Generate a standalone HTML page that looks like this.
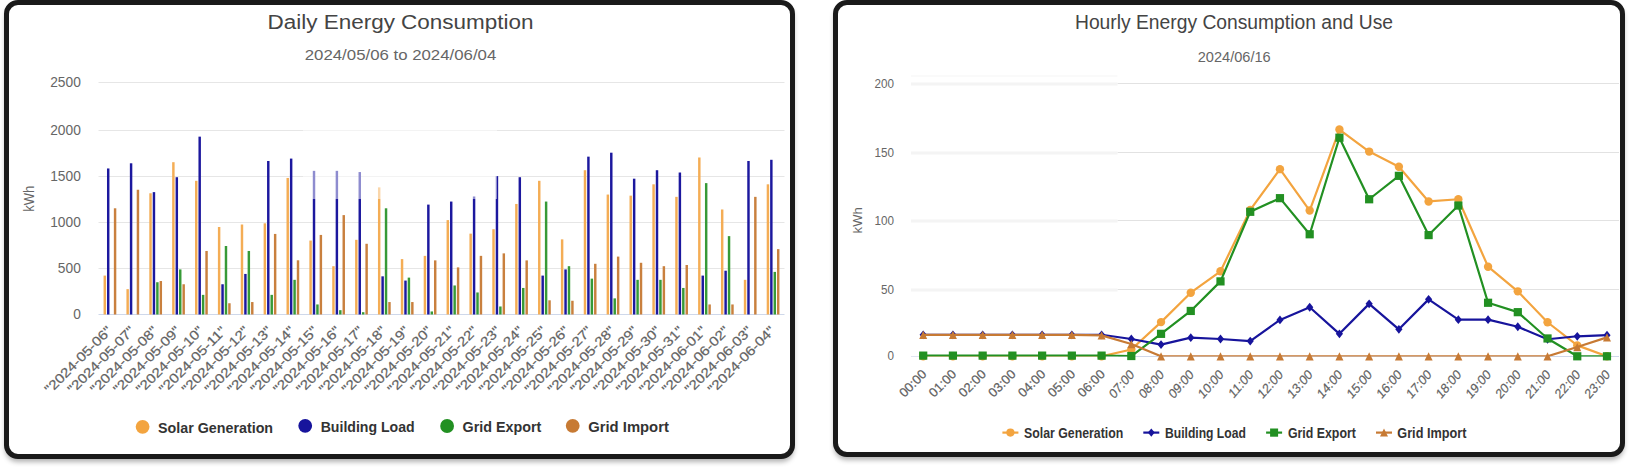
<!DOCTYPE html>
<html><head><meta charset="utf-8"><title>Energy Dashboard</title>
<style>
html,body{margin:0;padding:0;background:#fff;}
body{width:1629px;height:467px;position:relative;overflow:hidden;font-family:"Liberation Sans",sans-serif;}
.panel{position:absolute;box-sizing:border-box;border:5px solid #1a1a1a;border-radius:14px;background:#fff;box-shadow:0 4px 5px -1px rgba(0,0,0,0.3);}
svg{position:absolute;left:0;top:0;font-family:"Liberation Sans",sans-serif;}
</style></head><body>
<div class="panel" style="left:4px;top:0px;width:791px;height:459px"></div>
<div class="panel" style="left:833.3px;top:0px;width:792px;height:456.5px"></div>
<svg width="1629" height="467" viewBox="0 0 1629 467">
<line x1="98.5" x2="784.5" y1="314.50" y2="314.50" stroke="#cfd8ea" stroke-width="1"/>
<line x1="98.5" x2="784.5" y1="268.50" y2="268.50" stroke="#e6e6e6" stroke-width="1"/>
<line x1="98.5" x2="784.5" y1="222.50" y2="222.50" stroke="#e6e6e6" stroke-width="1"/>
<line x1="98.5" x2="784.5" y1="176.50" y2="176.50" stroke="#e6e6e6" stroke-width="1"/>
<line x1="98.5" x2="784.5" y1="130.50" y2="130.50" stroke="#e6e6e6" stroke-width="1"/>
<line x1="98.5" x2="784.5" y1="82.50" y2="82.50" stroke="#e6e6e6" stroke-width="1"/>
<text x="80.8" y="319.40" font-size="14" fill="#666" text-anchor="end" font-weight="normal" textLength="7.65" lengthAdjust="spacingAndGlyphs">0</text>
<text x="80.8" y="273.40" font-size="14" fill="#666" text-anchor="end" font-weight="normal" textLength="22.95" lengthAdjust="spacingAndGlyphs">500</text>
<text x="80.8" y="227.40" font-size="14" fill="#666" text-anchor="end" font-weight="normal" textLength="30.60" lengthAdjust="spacingAndGlyphs">1000</text>
<text x="80.8" y="181.40" font-size="14" fill="#666" text-anchor="end" font-weight="normal" textLength="30.60" lengthAdjust="spacingAndGlyphs">1500</text>
<text x="80.8" y="135.40" font-size="14" fill="#666" text-anchor="end" font-weight="normal" textLength="30.60" lengthAdjust="spacingAndGlyphs">2000</text>
<text x="80.8" y="87.40" font-size="14" fill="#666" text-anchor="end" font-weight="normal" textLength="30.60" lengthAdjust="spacingAndGlyphs">2500</text>
<text transform="translate(34.2,198.7) rotate(-90)" font-size="14" fill="#666" text-anchor="middle" textLength="26.2" lengthAdjust="spacingAndGlyphs">kWh</text>
<rect x="103.56" y="275.59" width="2.45" height="38.91" fill="#f4ad55"/>
<rect x="106.99" y="168.46" width="2.45" height="146.04" fill="#1c189e"/>
<rect x="113.85" y="208.29" width="2.45" height="106.21" fill="#c9803e"/>
<rect x="126.43" y="289.14" width="2.45" height="25.36" fill="#f4ad55"/>
<rect x="129.86" y="163.29" width="2.45" height="151.21" fill="#1c189e"/>
<rect x="136.72" y="189.75" width="2.45" height="124.75" fill="#c9803e"/>
<rect x="149.30" y="193.26" width="2.45" height="121.24" fill="#f4ad55"/>
<rect x="152.73" y="192.15" width="2.45" height="122.35" fill="#1c189e"/>
<rect x="156.16" y="282.23" width="2.45" height="32.27" fill="#379a37"/>
<rect x="159.59" y="281.03" width="2.45" height="33.47" fill="#c9803e"/>
<rect x="172.16" y="162.19" width="2.45" height="152.31" fill="#f4ad55"/>
<rect x="175.59" y="177.21" width="2.45" height="137.29" fill="#1c189e"/>
<rect x="179.02" y="269.41" width="2.45" height="45.09" fill="#379a37"/>
<rect x="182.45" y="284.26" width="2.45" height="30.24" fill="#c9803e"/>
<rect x="195.03" y="180.81" width="2.45" height="133.69" fill="#f4ad55"/>
<rect x="198.46" y="136.65" width="2.45" height="177.85" fill="#1c189e"/>
<rect x="201.89" y="294.86" width="2.45" height="19.64" fill="#379a37"/>
<rect x="205.32" y="250.97" width="2.45" height="63.53" fill="#c9803e"/>
<rect x="217.90" y="227.00" width="2.45" height="87.50" fill="#f4ad55"/>
<rect x="221.33" y="284.26" width="2.45" height="30.24" fill="#1c189e"/>
<rect x="224.76" y="246.00" width="2.45" height="68.50" fill="#379a37"/>
<rect x="228.19" y="303.25" width="2.45" height="11.25" fill="#c9803e"/>
<rect x="240.76" y="224.51" width="2.45" height="89.99" fill="#f4ad55"/>
<rect x="244.19" y="273.93" width="2.45" height="40.57" fill="#1c189e"/>
<rect x="247.62" y="250.97" width="2.45" height="63.53" fill="#379a37"/>
<rect x="251.05" y="302.05" width="2.45" height="12.45" fill="#c9803e"/>
<rect x="263.63" y="223.31" width="2.45" height="91.19" fill="#f4ad55"/>
<rect x="267.06" y="160.99" width="2.45" height="153.51" fill="#1c189e"/>
<rect x="270.49" y="294.86" width="2.45" height="19.64" fill="#379a37"/>
<rect x="273.92" y="233.92" width="2.45" height="80.58" fill="#c9803e"/>
<rect x="286.50" y="177.95" width="2.45" height="136.55" fill="#f4ad55"/>
<rect x="289.93" y="158.59" width="2.45" height="155.91" fill="#1c189e"/>
<rect x="293.36" y="279.83" width="2.45" height="34.67" fill="#379a37"/>
<rect x="296.79" y="260.29" width="2.45" height="54.21" fill="#c9803e"/>
<rect x="309.36" y="240.56" width="2.45" height="73.94" fill="#f4ad55"/>
<rect x="312.79" y="170.85" width="2.45" height="143.65" fill="#1c189e"/>
<rect x="316.22" y="304.45" width="2.45" height="10.05" fill="#379a37"/>
<rect x="319.65" y="234.93" width="2.45" height="79.57" fill="#c9803e"/>
<rect x="332.23" y="266.19" width="2.45" height="48.31" fill="#f4ad55"/>
<rect x="335.66" y="170.85" width="2.45" height="143.65" fill="#1c189e"/>
<rect x="339.09" y="310.17" width="2.45" height="4.33" fill="#379a37"/>
<rect x="342.52" y="215.11" width="2.45" height="99.39" fill="#c9803e"/>
<rect x="355.10" y="239.82" width="2.45" height="74.68" fill="#f4ad55"/>
<rect x="358.53" y="172.05" width="2.45" height="142.45" fill="#1c189e"/>
<rect x="361.96" y="312.19" width="2.45" height="2.31" fill="#379a37"/>
<rect x="365.39" y="243.78" width="2.45" height="70.72" fill="#c9803e"/>
<rect x="377.96" y="187.36" width="2.45" height="127.14" fill="#f4ad55"/>
<rect x="381.39" y="276.33" width="2.45" height="38.17" fill="#1c189e"/>
<rect x="384.82" y="208.29" width="2.45" height="106.21" fill="#379a37"/>
<rect x="388.25" y="302.05" width="2.45" height="12.45" fill="#c9803e"/>
<rect x="400.83" y="259.09" width="2.45" height="55.41" fill="#f4ad55"/>
<rect x="404.26" y="280.57" width="2.45" height="33.93" fill="#1c189e"/>
<rect x="407.69" y="277.62" width="2.45" height="36.88" fill="#379a37"/>
<rect x="411.12" y="302.05" width="2.45" height="12.45" fill="#c9803e"/>
<rect x="423.70" y="255.86" width="2.45" height="58.64" fill="#f4ad55"/>
<rect x="427.13" y="204.60" width="2.45" height="109.90" fill="#1c189e"/>
<rect x="430.56" y="311.46" width="2.45" height="3.04" fill="#379a37"/>
<rect x="433.99" y="260.38" width="2.45" height="54.12" fill="#c9803e"/>
<rect x="446.56" y="220.09" width="2.45" height="94.41" fill="#f4ad55"/>
<rect x="449.99" y="201.56" width="2.45" height="112.94" fill="#1c189e"/>
<rect x="453.42" y="285.46" width="2.45" height="29.04" fill="#379a37"/>
<rect x="456.85" y="267.39" width="2.45" height="47.11" fill="#c9803e"/>
<rect x="469.43" y="233.64" width="2.45" height="80.86" fill="#f4ad55"/>
<rect x="472.86" y="196.48" width="2.45" height="118.02" fill="#1c189e"/>
<rect x="476.29" y="292.46" width="2.45" height="22.04" fill="#379a37"/>
<rect x="479.72" y="255.86" width="2.45" height="58.64" fill="#c9803e"/>
<rect x="492.30" y="229.22" width="2.45" height="85.28" fill="#f4ad55"/>
<rect x="495.73" y="176.11" width="2.45" height="138.39" fill="#1c189e"/>
<rect x="499.16" y="306.48" width="2.45" height="8.02" fill="#379a37"/>
<rect x="502.59" y="253.37" width="2.45" height="61.13" fill="#c9803e"/>
<rect x="515.16" y="203.95" width="2.45" height="110.55" fill="#f4ad55"/>
<rect x="518.59" y="177.21" width="2.45" height="137.29" fill="#1c189e"/>
<rect x="522.02" y="287.95" width="2.45" height="26.55" fill="#379a37"/>
<rect x="525.45" y="260.38" width="2.45" height="54.12" fill="#c9803e"/>
<rect x="538.03" y="180.81" width="2.45" height="133.69" fill="#f4ad55"/>
<rect x="541.46" y="275.59" width="2.45" height="38.91" fill="#1c189e"/>
<rect x="544.89" y="201.56" width="2.45" height="112.94" fill="#379a37"/>
<rect x="548.32" y="300.30" width="2.45" height="14.20" fill="#c9803e"/>
<rect x="560.90" y="239.36" width="2.45" height="75.14" fill="#f4ad55"/>
<rect x="564.33" y="269.41" width="2.45" height="45.09" fill="#1c189e"/>
<rect x="567.76" y="266.19" width="2.45" height="48.31" fill="#379a37"/>
<rect x="571.19" y="300.76" width="2.45" height="13.74" fill="#c9803e"/>
<rect x="583.76" y="170.21" width="2.45" height="144.29" fill="#f4ad55"/>
<rect x="587.19" y="156.65" width="2.45" height="157.85" fill="#1c189e"/>
<rect x="590.62" y="278.63" width="2.45" height="35.87" fill="#379a37"/>
<rect x="594.05" y="263.79" width="2.45" height="50.71" fill="#c9803e"/>
<rect x="606.63" y="194.55" width="2.45" height="119.95" fill="#f4ad55"/>
<rect x="610.06" y="152.69" width="2.45" height="161.81" fill="#1c189e"/>
<rect x="613.49" y="298.37" width="2.45" height="16.13" fill="#379a37"/>
<rect x="616.92" y="256.60" width="2.45" height="57.90" fill="#c9803e"/>
<rect x="629.50" y="195.65" width="2.45" height="118.85" fill="#f4ad55"/>
<rect x="632.93" y="178.69" width="2.45" height="135.81" fill="#1c189e"/>
<rect x="636.36" y="279.83" width="2.45" height="34.67" fill="#379a37"/>
<rect x="639.79" y="262.78" width="2.45" height="51.72" fill="#c9803e"/>
<rect x="652.36" y="184.31" width="2.45" height="130.19" fill="#f4ad55"/>
<rect x="655.79" y="170.21" width="2.45" height="144.29" fill="#1c189e"/>
<rect x="659.22" y="279.83" width="2.45" height="34.67" fill="#379a37"/>
<rect x="662.65" y="266.19" width="2.45" height="48.31" fill="#c9803e"/>
<rect x="675.23" y="196.85" width="2.45" height="117.65" fill="#f4ad55"/>
<rect x="678.66" y="172.51" width="2.45" height="141.99" fill="#1c189e"/>
<rect x="682.09" y="287.95" width="2.45" height="26.55" fill="#379a37"/>
<rect x="685.52" y="264.99" width="2.45" height="49.51" fill="#c9803e"/>
<rect x="698.10" y="157.48" width="2.45" height="157.02" fill="#f4ad55"/>
<rect x="701.53" y="275.59" width="2.45" height="38.91" fill="#1c189e"/>
<rect x="704.96" y="183.12" width="2.45" height="131.38" fill="#379a37"/>
<rect x="708.39" y="304.45" width="2.45" height="10.05" fill="#c9803e"/>
<rect x="720.96" y="209.48" width="2.45" height="105.02" fill="#f4ad55"/>
<rect x="724.39" y="270.70" width="2.45" height="43.80" fill="#1c189e"/>
<rect x="727.82" y="236.13" width="2.45" height="78.37" fill="#379a37"/>
<rect x="731.25" y="304.45" width="2.45" height="10.05" fill="#c9803e"/>
<rect x="743.83" y="279.83" width="2.45" height="34.67" fill="#f4ad55"/>
<rect x="747.26" y="160.99" width="2.45" height="153.51" fill="#1c189e"/>
<rect x="754.12" y="196.85" width="2.45" height="117.65" fill="#c9803e"/>
<rect x="766.70" y="184.31" width="2.45" height="130.19" fill="#f4ad55"/>
<rect x="770.13" y="159.79" width="2.45" height="154.71" fill="#1c189e"/>
<rect x="773.56" y="271.90" width="2.45" height="42.60" fill="#379a37"/>
<rect x="776.99" y="249.13" width="2.45" height="65.37" fill="#c9803e"/>
<text transform="translate(112.73,331.80) rotate(-45)" font-size="13.3" fill="#626262" stroke="#626262" stroke-width="0.2" text-anchor="end" textLength="88.6" lengthAdjust="spacingAndGlyphs">&quot;2024-05-06&quot;</text>
<text transform="translate(135.60,331.80) rotate(-45)" font-size="13.3" fill="#626262" stroke="#626262" stroke-width="0.2" text-anchor="end" textLength="88.6" lengthAdjust="spacingAndGlyphs">&quot;2024-05-07&quot;</text>
<text transform="translate(158.47,331.80) rotate(-45)" font-size="13.3" fill="#626262" stroke="#626262" stroke-width="0.2" text-anchor="end" textLength="88.6" lengthAdjust="spacingAndGlyphs">&quot;2024-05-08&quot;</text>
<text transform="translate(181.33,331.80) rotate(-45)" font-size="13.3" fill="#626262" stroke="#626262" stroke-width="0.2" text-anchor="end" textLength="88.6" lengthAdjust="spacingAndGlyphs">&quot;2024-05-09&quot;</text>
<text transform="translate(204.20,331.80) rotate(-45)" font-size="13.3" fill="#626262" stroke="#626262" stroke-width="0.2" text-anchor="end" textLength="88.6" lengthAdjust="spacingAndGlyphs">&quot;2024-05-10&quot;</text>
<text transform="translate(227.07,331.80) rotate(-45)" font-size="13.3" fill="#626262" stroke="#626262" stroke-width="0.2" text-anchor="end" textLength="88.6" lengthAdjust="spacingAndGlyphs">&quot;2024-05-11&quot;</text>
<text transform="translate(249.93,331.80) rotate(-45)" font-size="13.3" fill="#626262" stroke="#626262" stroke-width="0.2" text-anchor="end" textLength="88.6" lengthAdjust="spacingAndGlyphs">&quot;2024-05-12&quot;</text>
<text transform="translate(272.80,331.80) rotate(-45)" font-size="13.3" fill="#626262" stroke="#626262" stroke-width="0.2" text-anchor="end" textLength="88.6" lengthAdjust="spacingAndGlyphs">&quot;2024-05-13&quot;</text>
<text transform="translate(295.67,331.80) rotate(-45)" font-size="13.3" fill="#626262" stroke="#626262" stroke-width="0.2" text-anchor="end" textLength="88.6" lengthAdjust="spacingAndGlyphs">&quot;2024-05-14&quot;</text>
<text transform="translate(318.53,331.80) rotate(-45)" font-size="13.3" fill="#626262" stroke="#626262" stroke-width="0.2" text-anchor="end" textLength="88.6" lengthAdjust="spacingAndGlyphs">&quot;2024-05-15&quot;</text>
<text transform="translate(341.40,331.80) rotate(-45)" font-size="13.3" fill="#626262" stroke="#626262" stroke-width="0.2" text-anchor="end" textLength="88.6" lengthAdjust="spacingAndGlyphs">&quot;2024-05-16&quot;</text>
<text transform="translate(364.27,331.80) rotate(-45)" font-size="13.3" fill="#626262" stroke="#626262" stroke-width="0.2" text-anchor="end" textLength="88.6" lengthAdjust="spacingAndGlyphs">&quot;2024-05-17&quot;</text>
<text transform="translate(387.13,331.80) rotate(-45)" font-size="13.3" fill="#626262" stroke="#626262" stroke-width="0.2" text-anchor="end" textLength="88.6" lengthAdjust="spacingAndGlyphs">&quot;2024-05-18&quot;</text>
<text transform="translate(410.00,331.80) rotate(-45)" font-size="13.3" fill="#626262" stroke="#626262" stroke-width="0.2" text-anchor="end" textLength="88.6" lengthAdjust="spacingAndGlyphs">&quot;2024-05-19&quot;</text>
<text transform="translate(432.87,331.80) rotate(-45)" font-size="13.3" fill="#626262" stroke="#626262" stroke-width="0.2" text-anchor="end" textLength="88.6" lengthAdjust="spacingAndGlyphs">&quot;2024-05-20&quot;</text>
<text transform="translate(455.73,331.80) rotate(-45)" font-size="13.3" fill="#626262" stroke="#626262" stroke-width="0.2" text-anchor="end" textLength="88.6" lengthAdjust="spacingAndGlyphs">&quot;2024-05-21&quot;</text>
<text transform="translate(478.60,331.80) rotate(-45)" font-size="13.3" fill="#626262" stroke="#626262" stroke-width="0.2" text-anchor="end" textLength="88.6" lengthAdjust="spacingAndGlyphs">&quot;2024-05-22&quot;</text>
<text transform="translate(501.47,331.80) rotate(-45)" font-size="13.3" fill="#626262" stroke="#626262" stroke-width="0.2" text-anchor="end" textLength="88.6" lengthAdjust="spacingAndGlyphs">&quot;2024-05-23&quot;</text>
<text transform="translate(524.33,331.80) rotate(-45)" font-size="13.3" fill="#626262" stroke="#626262" stroke-width="0.2" text-anchor="end" textLength="88.6" lengthAdjust="spacingAndGlyphs">&quot;2024-05-24&quot;</text>
<text transform="translate(547.20,331.80) rotate(-45)" font-size="13.3" fill="#626262" stroke="#626262" stroke-width="0.2" text-anchor="end" textLength="88.6" lengthAdjust="spacingAndGlyphs">&quot;2024-05-25&quot;</text>
<text transform="translate(570.07,331.80) rotate(-45)" font-size="13.3" fill="#626262" stroke="#626262" stroke-width="0.2" text-anchor="end" textLength="88.6" lengthAdjust="spacingAndGlyphs">&quot;2024-05-26&quot;</text>
<text transform="translate(592.93,331.80) rotate(-45)" font-size="13.3" fill="#626262" stroke="#626262" stroke-width="0.2" text-anchor="end" textLength="88.6" lengthAdjust="spacingAndGlyphs">&quot;2024-05-27&quot;</text>
<text transform="translate(615.80,331.80) rotate(-45)" font-size="13.3" fill="#626262" stroke="#626262" stroke-width="0.2" text-anchor="end" textLength="88.6" lengthAdjust="spacingAndGlyphs">&quot;2024-05-28&quot;</text>
<text transform="translate(638.67,331.80) rotate(-45)" font-size="13.3" fill="#626262" stroke="#626262" stroke-width="0.2" text-anchor="end" textLength="88.6" lengthAdjust="spacingAndGlyphs">&quot;2024-05-29&quot;</text>
<text transform="translate(661.53,331.80) rotate(-45)" font-size="13.3" fill="#626262" stroke="#626262" stroke-width="0.2" text-anchor="end" textLength="88.6" lengthAdjust="spacingAndGlyphs">&quot;2024-05-30&quot;</text>
<text transform="translate(684.40,331.80) rotate(-45)" font-size="13.3" fill="#626262" stroke="#626262" stroke-width="0.2" text-anchor="end" textLength="88.6" lengthAdjust="spacingAndGlyphs">&quot;2024-05-31&quot;</text>
<text transform="translate(707.27,331.80) rotate(-45)" font-size="13.3" fill="#626262" stroke="#626262" stroke-width="0.2" text-anchor="end" textLength="88.6" lengthAdjust="spacingAndGlyphs">&quot;2024-06-01&quot;</text>
<text transform="translate(730.13,331.80) rotate(-45)" font-size="13.3" fill="#626262" stroke="#626262" stroke-width="0.2" text-anchor="end" textLength="88.6" lengthAdjust="spacingAndGlyphs">&quot;2024-06-02&quot;</text>
<text transform="translate(753.00,331.80) rotate(-45)" font-size="13.3" fill="#626262" stroke="#626262" stroke-width="0.2" text-anchor="end" textLength="88.6" lengthAdjust="spacingAndGlyphs">&quot;2024-06-03&quot;</text>
<text transform="translate(775.87,331.80) rotate(-45)" font-size="13.3" fill="#626262" stroke="#626262" stroke-width="0.2" text-anchor="end" textLength="88.6" lengthAdjust="spacingAndGlyphs">&quot;2024-06-04&quot;</text>
<rect x="303" y="126" width="194" height="73" fill="#fff" opacity="0.5"/>
<text x="400.5" y="29.2" font-size="19.5" fill="#444" text-anchor="middle" font-weight="normal" textLength="266" lengthAdjust="spacingAndGlyphs">Daily Energy Consumption</text>
<text x="400.5" y="59.9" font-size="14.7" fill="#666" text-anchor="middle" font-weight="normal" textLength="191.5" lengthAdjust="spacingAndGlyphs">2024/05/06 to 2024/06/04</text>
<circle cx="142.6" cy="426.8" r="6.9" fill="#f3a43f"/>
<text x="158.1" y="432.7" font-size="15.0" fill="#333" text-anchor="start" font-weight="bold" textLength="115.0" lengthAdjust="spacingAndGlyphs">Solar Generation</text>
<circle cx="305.2" cy="425.8" r="6.9" fill="#17149c"/>
<text x="320.7" y="431.5" font-size="14.3" fill="#333" text-anchor="start" font-weight="bold" textLength="94.0" lengthAdjust="spacingAndGlyphs">Building Load</text>
<circle cx="447.1" cy="426.0" r="6.9" fill="#229022"/>
<text x="462.6" y="431.6" font-size="14.3" fill="#333" text-anchor="start" font-weight="bold" textLength="78.8" lengthAdjust="spacingAndGlyphs">Grid Export</text>
<circle cx="572.7" cy="425.8" r="6.9" fill="#c77a34"/>
<text x="588.2" y="431.6" font-size="14.3" fill="#333" text-anchor="start" font-weight="bold" textLength="80.7" lengthAdjust="spacingAndGlyphs">Grid Import</text>
<line x1="1117.5" x2="1619.0" y1="356.50" y2="356.50" stroke="#cfd8ea" stroke-width="1"/>
<line x1="911" x2="1117.5" y1="356.50" y2="356.50" stroke="#dfe5f0" stroke-width="1"/>
<line x1="1117.5" x2="1619.0" y1="289.50" y2="289.50" stroke="#e2e2e2" stroke-width="1"/>
<rect x="911" y="288.50" width="206.5" height="3" fill="#f4f4f4"/>
<line x1="1117.5" x2="1619.0" y1="220.50" y2="220.50" stroke="#e2e2e2" stroke-width="1"/>
<rect x="911" y="219.50" width="206.5" height="3" fill="#f4f4f4"/>
<line x1="1117.5" x2="1619.0" y1="152.50" y2="152.50" stroke="#e2e2e2" stroke-width="1"/>
<rect x="911" y="151.50" width="206.5" height="3" fill="#f4f4f4"/>
<line x1="1117.5" x2="1619.0" y1="83.50" y2="83.50" stroke="#e2e2e2" stroke-width="1"/>
<rect x="911" y="82.50" width="206.5" height="3" fill="#f4f4f4"/>
<line x1="911" x2="1117.5" y1="76" y2="76" stroke="#f5f5f5" stroke-width="1"/>
<text x="893.9" y="360.30" font-size="13.7" fill="#666" text-anchor="end" font-weight="normal" textLength="6.50" lengthAdjust="spacingAndGlyphs">0</text>
<text x="893.9" y="294.10" font-size="13.7" fill="#666" text-anchor="end" font-weight="normal" textLength="13.00" lengthAdjust="spacingAndGlyphs">50</text>
<text x="893.9" y="225.10" font-size="13.7" fill="#666" text-anchor="end" font-weight="normal" textLength="19.50" lengthAdjust="spacingAndGlyphs">100</text>
<text x="893.9" y="157.10" font-size="13.7" fill="#666" text-anchor="end" font-weight="normal" textLength="19.50" lengthAdjust="spacingAndGlyphs">150</text>
<text x="893.9" y="88.10" font-size="13.7" fill="#666" text-anchor="end" font-weight="normal" textLength="19.50" lengthAdjust="spacingAndGlyphs">200</text>
<text transform="translate(861.9,220.3) rotate(-90)" font-size="13.6" fill="#666" text-anchor="middle" textLength="26.2" lengthAdjust="spacingAndGlyphs">kWh</text>
<clipPath id="rc"><rect x="905" y="70" width="720" height="286.40"/></clipPath>
<polyline clip-path="url(#rc)" points="923.20,356.30 952.93,356.30 982.66,356.30 1012.39,356.30 1042.12,356.30 1071.85,356.30 1101.58,356.30 1131.31,349.49 1161.04,322.11 1190.77,292.69 1220.50,271.31 1250.23,209.89 1279.96,169.16 1309.69,210.57 1339.42,129.53 1369.15,151.59 1398.88,166.71 1428.61,201.44 1458.34,199.26 1488.07,266.68 1517.80,291.33 1547.53,322.25 1577.26,345.40 1606.99,356.30" fill="none" stroke="#f3a43f" stroke-width="2.2" stroke-linejoin="round" stroke-linecap="round"/>
<circle cx="923.20" cy="356.30" r="4.2" fill="#f3a43f"/>
<circle cx="952.93" cy="356.30" r="4.2" fill="#f3a43f"/>
<circle cx="982.66" cy="356.30" r="4.2" fill="#f3a43f"/>
<circle cx="1012.39" cy="356.30" r="4.2" fill="#f3a43f"/>
<circle cx="1042.12" cy="356.30" r="4.2" fill="#f3a43f"/>
<circle cx="1071.85" cy="356.30" r="4.2" fill="#f3a43f"/>
<circle cx="1101.58" cy="356.30" r="4.2" fill="#f3a43f"/>
<circle cx="1131.31" cy="349.49" r="4.2" fill="#f3a43f"/>
<circle cx="1161.04" cy="322.11" r="4.2" fill="#f3a43f"/>
<circle cx="1190.77" cy="292.69" r="4.2" fill="#f3a43f"/>
<circle cx="1220.50" cy="271.31" r="4.2" fill="#f3a43f"/>
<circle cx="1250.23" cy="209.89" r="4.2" fill="#f3a43f"/>
<circle cx="1279.96" cy="169.16" r="4.2" fill="#f3a43f"/>
<circle cx="1309.69" cy="210.57" r="4.2" fill="#f3a43f"/>
<circle cx="1339.42" cy="129.53" r="4.2" fill="#f3a43f"/>
<circle cx="1369.15" cy="151.59" r="4.2" fill="#f3a43f"/>
<circle cx="1398.88" cy="166.71" r="4.2" fill="#f3a43f"/>
<circle cx="1428.61" cy="201.44" r="4.2" fill="#f3a43f"/>
<circle cx="1458.34" cy="199.26" r="4.2" fill="#f3a43f"/>
<circle cx="1488.07" cy="266.68" r="4.2" fill="#f3a43f"/>
<circle cx="1517.80" cy="291.33" r="4.2" fill="#f3a43f"/>
<circle cx="1547.53" cy="322.25" r="4.2" fill="#f3a43f"/>
<circle cx="1577.26" cy="345.40" r="4.2" fill="#f3a43f"/>
<circle cx="1606.99" cy="356.30" r="4.2" fill="#f3a43f"/>
<polyline clip-path="url(#rc)" points="923.20,334.78 952.93,334.78 982.66,334.78 1012.39,334.78 1042.12,334.78 1071.85,334.78 1101.58,334.78 1131.31,339.00 1161.04,344.59 1190.77,337.64 1220.50,339.00 1250.23,341.05 1279.96,319.93 1309.69,307.27 1339.42,333.83 1369.15,303.86 1398.88,329.33 1428.61,299.37 1458.34,319.66 1488.07,319.66 1517.80,326.74 1547.53,339.28 1577.26,336.28 1606.99,335.19" fill="none" stroke="#17149c" stroke-width="2.2" stroke-linejoin="round" stroke-linecap="round"/>
<path d="M923.20 330.38L926.80 334.78L923.20 339.18L919.60 334.78Z" fill="#17149c"/>
<path d="M952.93 330.38L956.53 334.78L952.93 339.18L949.33 334.78Z" fill="#17149c"/>
<path d="M982.66 330.38L986.26 334.78L982.66 339.18L979.06 334.78Z" fill="#17149c"/>
<path d="M1012.39 330.38L1015.99 334.78L1012.39 339.18L1008.79 334.78Z" fill="#17149c"/>
<path d="M1042.12 330.38L1045.72 334.78L1042.12 339.18L1038.52 334.78Z" fill="#17149c"/>
<path d="M1071.85 330.38L1075.45 334.78L1071.85 339.18L1068.25 334.78Z" fill="#17149c"/>
<path d="M1101.58 330.38L1105.18 334.78L1101.58 339.18L1097.98 334.78Z" fill="#17149c"/>
<path d="M1131.31 334.60L1134.91 339.00L1131.31 343.40L1127.71 339.00Z" fill="#17149c"/>
<path d="M1161.04 340.19L1164.64 344.59L1161.04 348.99L1157.44 344.59Z" fill="#17149c"/>
<path d="M1190.77 333.24L1194.37 337.64L1190.77 342.04L1187.17 337.64Z" fill="#17149c"/>
<path d="M1220.50 334.60L1224.10 339.00L1220.50 343.40L1216.90 339.00Z" fill="#17149c"/>
<path d="M1250.23 336.65L1253.83 341.05L1250.23 345.45L1246.63 341.05Z" fill="#17149c"/>
<path d="M1279.96 315.53L1283.56 319.93L1279.96 324.33L1276.36 319.93Z" fill="#17149c"/>
<path d="M1309.69 302.87L1313.29 307.27L1309.69 311.67L1306.09 307.27Z" fill="#17149c"/>
<path d="M1339.42 329.43L1343.02 333.83L1339.42 338.23L1335.82 333.83Z" fill="#17149c"/>
<path d="M1369.15 299.46L1372.75 303.86L1369.15 308.26L1365.55 303.86Z" fill="#17149c"/>
<path d="M1398.88 324.93L1402.48 329.33L1398.88 333.73L1395.28 329.33Z" fill="#17149c"/>
<path d="M1428.61 294.97L1432.21 299.37L1428.61 303.77L1425.01 299.37Z" fill="#17149c"/>
<path d="M1458.34 315.26L1461.94 319.66L1458.34 324.06L1454.74 319.66Z" fill="#17149c"/>
<path d="M1488.07 315.26L1491.67 319.66L1488.07 324.06L1484.47 319.66Z" fill="#17149c"/>
<path d="M1517.80 322.34L1521.40 326.74L1517.80 331.14L1514.20 326.74Z" fill="#17149c"/>
<path d="M1547.53 334.88L1551.13 339.28L1547.53 343.68L1543.93 339.28Z" fill="#17149c"/>
<path d="M1577.26 331.88L1580.86 336.28L1577.26 340.68L1573.66 336.28Z" fill="#17149c"/>
<path d="M1606.99 330.79L1610.59 335.19L1606.99 339.59L1603.39 335.19Z" fill="#17149c"/>
<polyline clip-path="url(#rc)" points="923.20,355.62 952.93,355.62 982.66,355.62 1012.39,355.62 1042.12,355.62 1071.85,355.62 1101.58,355.62 1131.31,356.03 1161.04,333.83 1190.77,310.95 1220.50,281.39 1250.23,211.79 1279.96,198.17 1309.69,234.26 1339.42,137.70 1369.15,199.26 1398.88,175.84 1428.61,235.08 1458.34,205.53 1488.07,302.77 1517.80,312.17 1547.53,338.46 1577.26,356.30 1606.99,356.30" fill="none" stroke="#229022" stroke-width="2.2" stroke-linejoin="round" stroke-linecap="round"/>
<rect x="919.10" y="351.52" width="8.2" height="8.2" fill="#229022"/>
<rect x="948.83" y="351.52" width="8.2" height="8.2" fill="#229022"/>
<rect x="978.56" y="351.52" width="8.2" height="8.2" fill="#229022"/>
<rect x="1008.29" y="351.52" width="8.2" height="8.2" fill="#229022"/>
<rect x="1038.02" y="351.52" width="8.2" height="8.2" fill="#229022"/>
<rect x="1067.75" y="351.52" width="8.2" height="8.2" fill="#229022"/>
<rect x="1097.48" y="351.52" width="8.2" height="8.2" fill="#229022"/>
<rect x="1127.21" y="351.93" width="8.2" height="8.2" fill="#229022"/>
<rect x="1156.94" y="329.73" width="8.2" height="8.2" fill="#229022"/>
<rect x="1186.67" y="306.85" width="8.2" height="8.2" fill="#229022"/>
<rect x="1216.40" y="277.29" width="8.2" height="8.2" fill="#229022"/>
<rect x="1246.13" y="207.69" width="8.2" height="8.2" fill="#229022"/>
<rect x="1275.86" y="194.07" width="8.2" height="8.2" fill="#229022"/>
<rect x="1305.59" y="230.16" width="8.2" height="8.2" fill="#229022"/>
<rect x="1335.32" y="133.60" width="8.2" height="8.2" fill="#229022"/>
<rect x="1365.05" y="195.16" width="8.2" height="8.2" fill="#229022"/>
<rect x="1394.78" y="171.74" width="8.2" height="8.2" fill="#229022"/>
<rect x="1424.51" y="230.98" width="8.2" height="8.2" fill="#229022"/>
<rect x="1454.24" y="201.43" width="8.2" height="8.2" fill="#229022"/>
<rect x="1483.97" y="298.67" width="8.2" height="8.2" fill="#229022"/>
<rect x="1513.70" y="308.07" width="8.2" height="8.2" fill="#229022"/>
<rect x="1543.43" y="334.36" width="8.2" height="8.2" fill="#229022"/>
<rect x="1573.16" y="352.20" width="8.2" height="8.2" fill="#229022"/>
<rect x="1602.89" y="352.20" width="8.2" height="8.2" fill="#229022"/>
<polyline clip-path="url(#rc)" points="923.20,334.78 952.93,334.78 982.66,334.78 1012.39,334.78 1042.12,334.78 1071.85,334.78 1101.58,335.33 1131.31,344.04 1161.04,356.30 1190.77,356.30 1220.50,356.30 1250.23,356.30 1279.96,356.30 1309.69,356.30 1339.42,356.30 1369.15,356.30 1398.88,356.30 1428.61,356.30 1458.34,356.30 1488.07,356.30 1517.80,356.30 1547.53,356.30 1577.26,347.04 1606.99,337.37" fill="none" stroke="#c77a34" stroke-width="2.2" stroke-linejoin="round" stroke-linecap="round"/>
<path d="M923.20 330.78L927.20 338.98L919.20 338.98Z" fill="#c77a34"/>
<path d="M952.93 330.78L956.93 338.98L948.93 338.98Z" fill="#c77a34"/>
<path d="M982.66 330.78L986.66 338.98L978.66 338.98Z" fill="#c77a34"/>
<path d="M1012.39 330.78L1016.39 338.98L1008.39 338.98Z" fill="#c77a34"/>
<path d="M1042.12 330.78L1046.12 338.98L1038.12 338.98Z" fill="#c77a34"/>
<path d="M1071.85 330.78L1075.85 338.98L1067.85 338.98Z" fill="#c77a34"/>
<path d="M1101.58 331.33L1105.58 339.53L1097.58 339.53Z" fill="#c77a34"/>
<path d="M1131.31 340.04L1135.31 348.24L1127.31 348.24Z" fill="#c77a34"/>
<path d="M1161.04 352.30L1165.04 360.50L1157.04 360.50Z" fill="#c77a34"/>
<path d="M1190.77 352.30L1194.77 360.50L1186.77 360.50Z" fill="#c77a34"/>
<path d="M1220.50 352.30L1224.50 360.50L1216.50 360.50Z" fill="#c77a34"/>
<path d="M1250.23 352.30L1254.23 360.50L1246.23 360.50Z" fill="#c77a34"/>
<path d="M1279.96 352.30L1283.96 360.50L1275.96 360.50Z" fill="#c77a34"/>
<path d="M1309.69 352.30L1313.69 360.50L1305.69 360.50Z" fill="#c77a34"/>
<path d="M1339.42 352.30L1343.42 360.50L1335.42 360.50Z" fill="#c77a34"/>
<path d="M1369.15 352.30L1373.15 360.50L1365.15 360.50Z" fill="#c77a34"/>
<path d="M1398.88 352.30L1402.88 360.50L1394.88 360.50Z" fill="#c77a34"/>
<path d="M1428.61 352.30L1432.61 360.50L1424.61 360.50Z" fill="#c77a34"/>
<path d="M1458.34 352.30L1462.34 360.50L1454.34 360.50Z" fill="#c77a34"/>
<path d="M1488.07 352.30L1492.07 360.50L1484.07 360.50Z" fill="#c77a34"/>
<path d="M1517.80 352.30L1521.80 360.50L1513.80 360.50Z" fill="#c77a34"/>
<path d="M1547.53 352.30L1551.53 360.50L1543.53 360.50Z" fill="#c77a34"/>
<path d="M1577.26 343.04L1581.26 351.24L1573.26 351.24Z" fill="#c77a34"/>
<path d="M1606.99 333.37L1610.99 341.57L1602.99 341.57Z" fill="#c77a34"/>
<text transform="translate(927.40,375.0) rotate(-45)" font-size="13" fill="#626262" stroke="#626262" stroke-width="0.2" text-anchor="end">00:00</text>
<text transform="translate(957.13,375.0) rotate(-45)" font-size="13" fill="#626262" stroke="#626262" stroke-width="0.2" text-anchor="end">01:00</text>
<text transform="translate(986.86,375.0) rotate(-45)" font-size="13" fill="#626262" stroke="#626262" stroke-width="0.2" text-anchor="end">02:00</text>
<text transform="translate(1016.59,375.0) rotate(-45)" font-size="13" fill="#626262" stroke="#626262" stroke-width="0.2" text-anchor="end">03:00</text>
<text transform="translate(1046.32,375.0) rotate(-45)" font-size="13" fill="#626262" stroke="#626262" stroke-width="0.2" text-anchor="end">04:00</text>
<text transform="translate(1076.05,375.0) rotate(-45)" font-size="13" fill="#626262" stroke="#626262" stroke-width="0.2" text-anchor="end">05:00</text>
<text transform="translate(1105.78,375.0) rotate(-45)" font-size="13" fill="#626262" stroke="#626262" stroke-width="0.2" text-anchor="end">06:00</text>
<text transform="translate(1134.91,375.2) scale(0.86,1) rotate(-45)" font-size="13.8" fill="#626262" stroke="#626262" stroke-width="0.2" text-anchor="end">07:00</text>
<text transform="translate(1164.64,375.2) scale(0.86,1) rotate(-45)" font-size="13.8" fill="#626262" stroke="#626262" stroke-width="0.2" text-anchor="end">08:00</text>
<text transform="translate(1194.37,375.2) scale(0.86,1) rotate(-45)" font-size="13.8" fill="#626262" stroke="#626262" stroke-width="0.2" text-anchor="end">09:00</text>
<text transform="translate(1224.10,375.2) scale(0.86,1) rotate(-45)" font-size="13.8" fill="#626262" stroke="#626262" stroke-width="0.2" text-anchor="end">10:00</text>
<text transform="translate(1253.83,375.2) scale(0.86,1) rotate(-45)" font-size="13.8" fill="#626262" stroke="#626262" stroke-width="0.2" text-anchor="end">11:00</text>
<text transform="translate(1283.56,375.2) scale(0.86,1) rotate(-45)" font-size="13.8" fill="#626262" stroke="#626262" stroke-width="0.2" text-anchor="end">12:00</text>
<text transform="translate(1313.29,375.2) scale(0.86,1) rotate(-45)" font-size="13.8" fill="#626262" stroke="#626262" stroke-width="0.2" text-anchor="end">13:00</text>
<text transform="translate(1343.02,375.2) scale(0.86,1) rotate(-45)" font-size="13.8" fill="#626262" stroke="#626262" stroke-width="0.2" text-anchor="end">14:00</text>
<text transform="translate(1372.75,375.2) scale(0.86,1) rotate(-45)" font-size="13.8" fill="#626262" stroke="#626262" stroke-width="0.2" text-anchor="end">15:00</text>
<text transform="translate(1402.48,375.2) scale(0.86,1) rotate(-45)" font-size="13.8" fill="#626262" stroke="#626262" stroke-width="0.2" text-anchor="end">16:00</text>
<text transform="translate(1432.21,375.2) scale(0.86,1) rotate(-45)" font-size="13.8" fill="#626262" stroke="#626262" stroke-width="0.2" text-anchor="end">17:00</text>
<text transform="translate(1461.94,375.2) scale(0.86,1) rotate(-45)" font-size="13.8" fill="#626262" stroke="#626262" stroke-width="0.2" text-anchor="end">18:00</text>
<text transform="translate(1491.67,375.2) scale(0.86,1) rotate(-45)" font-size="13.8" fill="#626262" stroke="#626262" stroke-width="0.2" text-anchor="end">19:00</text>
<text transform="translate(1521.40,375.2) scale(0.86,1) rotate(-45)" font-size="13.8" fill="#626262" stroke="#626262" stroke-width="0.2" text-anchor="end">20:00</text>
<text transform="translate(1551.13,375.2) scale(0.86,1) rotate(-45)" font-size="13.8" fill="#626262" stroke="#626262" stroke-width="0.2" text-anchor="end">21:00</text>
<text transform="translate(1580.86,375.2) scale(0.86,1) rotate(-45)" font-size="13.8" fill="#626262" stroke="#626262" stroke-width="0.2" text-anchor="end">22:00</text>
<text transform="translate(1610.59,375.2) scale(0.86,1) rotate(-45)" font-size="13.8" fill="#626262" stroke="#626262" stroke-width="0.2" text-anchor="end">23:00</text>
<text x="1234" y="28.6" font-size="19.5" fill="#444" text-anchor="middle" font-weight="normal" textLength="318" lengthAdjust="spacingAndGlyphs">Hourly Energy Consumption and Use</text>
<text x="1234.2" y="61.9" font-size="14.6" fill="#666" text-anchor="middle" font-weight="normal" textLength="73" lengthAdjust="spacingAndGlyphs">2024/06/16</text>
<line x1="1002.4" x2="1018.4" y1="432.6" y2="432.6" stroke="#f3a43f" stroke-width="2.2"/>
<circle cx="1010.4" cy="432.6" r="4.1" fill="#f3a43f"/>
<text x="1024.1" y="437.5" font-size="13.9" fill="#333" text-anchor="start" font-weight="bold" textLength="99.1" lengthAdjust="spacingAndGlyphs">Solar Generation</text>
<line x1="1143.3" x2="1159.3" y1="432.6" y2="432.6" stroke="#17149c" stroke-width="2.2"/>
<path d="M1151.3 428.4L1154.7 432.6L1151.3 436.8L1147.9 432.6Z" fill="#17149c"/>
<text x="1165" y="437.5" font-size="13.9" fill="#333" text-anchor="start" font-weight="bold" textLength="80.8" lengthAdjust="spacingAndGlyphs">Building Load</text>
<line x1="1266.1" x2="1282.1" y1="432.6" y2="432.6" stroke="#229022" stroke-width="2.2"/>
<rect x="1270.1" y="428.5" width="8" height="8.2" fill="#229022"/>
<text x="1287.9" y="437.5" font-size="13.9" fill="#333" text-anchor="start" font-weight="bold" textLength="68" lengthAdjust="spacingAndGlyphs">Grid Export</text>
<line x1="1376" x2="1392" y1="432.6" y2="432.6" stroke="#c77a34" stroke-width="2.2"/>
<path d="M1384 428.4L1388 436.6L1380 436.6Z" fill="#c77a34"/>
<text x="1397.3" y="437.5" font-size="13.9" fill="#333" text-anchor="start" font-weight="bold" textLength="69.1" lengthAdjust="spacingAndGlyphs">Grid Import</text>
</svg>
</body></html>
